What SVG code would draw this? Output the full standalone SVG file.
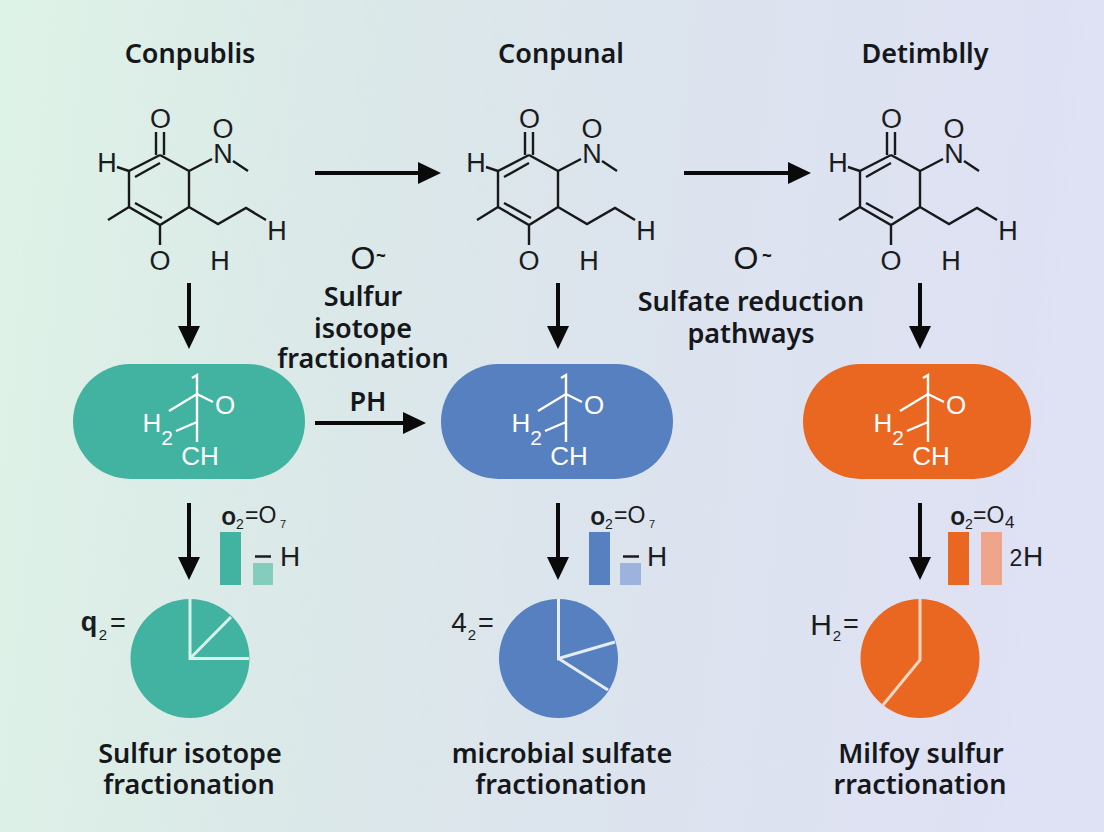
<svg xmlns="http://www.w3.org/2000/svg" width="1104" height="832" viewBox="0 0 1104 832">
<defs>
<linearGradient id="bg" x1="0" y1="0" x2="1" y2="0.08"><stop offset="0" stop-color="#def3e7"/><stop offset="0.3" stop-color="#dbe9e8"/><stop offset="0.65" stop-color="#dce3ee"/><stop offset="1" stop-color="#dfe1f4"/></linearGradient>
<marker id="ah" markerUnits="userSpaceOnUse" markerWidth="24" markerHeight="24" refX="1" refY="11" orient="auto"><path d="M0 0L23 11L0 22Z" fill="#0a0a0a"/></marker>
</defs>
<style>
text{font-family:"Noto Sans","Open Sans","Liberation Sans",sans-serif;fill:#15171a;text-anchor:middle}
.t{font-size:27px;font-weight:600}
.c{font-size:27px;font-weight:600}
.a{font-family:"Liberation Sans",Arial,sans-serif;font-size:27px;fill:#15171a}
.s{font-family:"Liberation Sans",Arial,sans-serif;font-size:27px;fill:#1a1c1e}
.w{font-family:"Liberation Sans",Arial,sans-serif;font-size:26px;fill:#fff}
.b{fill:none;stroke:#17191b;stroke-width:2.4}
.wl{fill:none;stroke:#fff;stroke-width:2.4}
.cn{fill:none;stroke:#0a0a0a;stroke-width:4;marker-end:url(#ah)}
.p{fill:none;stroke-width:3;stroke-linejoin:miter}
.teal{fill:#42b3a0}.blue{fill:#5680bf}.org{fill:#ea6722}
.st{text-anchor:start}
</style>
<rect width="1104" height="832" fill="url(#bg)"/>

<g id="title-1"><text class="t" x="190" y="63">Conpublis</text></g>
<g id="title-2"><text class="t" x="561" y="63">Conpunal</text></g>
<g id="title-3"><text class="t" x="925" y="63">Detimblly</text></g>

<g id="molecule-1">
<path class="b" d="M156 132V155M164 132V155M160 155L189 171V207L160 225L129 207V171L160 155M135 177L160 163M135 203L162 218M117 167L129 171M129 207L108 220M160 225V245M189 171L212 159M233 161L248 171M189 207L218 224L246 208L266 220"/>
<text class="s" x="160.500" y="128">O</text><text class="s" x="223" y="138">O</text><text class="s" x="223" y="163">N</text><text class="s" x="107" y="172">H</text><text class="s" x="277" y="240">H</text><text class="s" x="160" y="270">O</text><text class="s" x="220" y="270">H</text>
</g>
<g id="molecule-2" transform="translate(369 0)">
<path class="b" d="M156 132V155M164 132V155M160 155L189 171V207L160 225L129 207V171L160 155M135 177L160 163M135 203L162 218M117 167L129 171M129 207L108 220M160 225V245M189 171L212 159M233 161L248 171M189 207L218 224L246 208L266 220"/>
<text class="s" x="160.500" y="128">O</text><text class="s" x="223" y="138">O</text><text class="s" x="223" y="163">N</text><text class="s" x="107" y="172">H</text><text class="s" x="277" y="240">H</text><text class="s" x="160" y="270">O</text><text class="s" x="220" y="270">H</text>
</g>
<g id="molecule-3" transform="translate(731 0)">
<path class="b" d="M156 132V155M164 132V155M160 155L189 171V207L160 225L129 207V171L160 155M135 177L160 163M135 203L162 218M117 167L129 171M129 207L108 220M160 225V245M189 171L212 159M233 161L248 171M189 207L218 224L246 208L266 220"/>
<text class="s" x="160.500" y="128">O</text><text class="s" x="223" y="138">O</text><text class="s" x="223" y="163">N</text><text class="s" x="107" y="172">H</text><text class="s" x="277" y="240">H</text><text class="s" x="160" y="270">O</text><text class="s" x="220" y="270">H</text>
</g>

<g id="connectors">
<path class="cn" d="M315 173H419"/>
<path class="cn" d="M684 173H789"/>
<path class="cn" d="M315 423H404"/>
<path class="cn" d="M189 283V327"/>
<path class="cn" d="M558 283V327"/>
<path class="cn" d="M920 283V327"/>
<path class="cn" d="M189 503V558"/>
<path class="cn" d="M558 503V558"/>
<path class="cn" d="M920 503V558"/>
</g>

<g id="label-between-1">
<text class="a" x="363" y="269" style="font-size:32px">O</text>
<text x="381" y="262" style="font-size:17px;font-weight:800">~</text>
<text class="c" x="363" y="306">Sulfur</text><text class="c" x="363" y="338">isotope</text><text class="c" x="363" y="368">fractionation</text>
<text class="c" x="368" y="411">PH</text>
</g>
<g id="label-between-2">
<text class="a" x="746" y="269" style="font-size:32px">O</text>
<text x="767" y="262" style="font-size:17px;font-weight:800">~</text>
<text class="c" x="751" y="311">Sulfate reduction</text><text class="c" x="751" y="343">pathways</text>
</g>

<g id="pill-1"><rect class="teal" x="73" y="364" width="232" height="115" rx="57.500"/>
<path class="wl" d="M192 378L197 375V442M169 411L197 394L213 402M176 431L197 422"/>
<text class="w" x="225" y="414">O</text><text class="w" x="152" y="432">H</text><text class="w" x="167" y="445" style="font-size:21px">2</text><text class="w" x="200" y="465">CH</text></g>
<g id="pill-2"><rect class="blue" x="441" y="364" width="232" height="115" rx="57.500"/>
<g transform="translate(369 0)"><path class="wl" d="M192 378L197 375V442M169 411L197 394L213 402M176 431L197 422"/>
<text class="w" x="225" y="414">O</text><text class="w" x="152" y="432">H</text><text class="w" x="167" y="445" style="font-size:21px">2</text><text class="w" x="200" y="465">CH</text></g></g>
<g id="pill-3"><rect class="org" x="803" y="364" width="228" height="115" rx="57.500"/>
<g transform="translate(731 0)"><path class="wl" d="M192 378L197 375V442M169 411L197 394L213 402M176 431L197 422"/>
<text class="w" x="225" y="414">O</text><text class="w" x="152" y="432">H</text><text class="w" x="167" y="445" style="font-size:21px">2</text><text class="w" x="200" y="465">CH</text></g></g>

<g id="bars-1">
<text class="s st" x="221" y="525" style="font-size:25px;font-weight:600;font-family:'Noto Sans',sans-serif">o</text><text class="s st" x="236" y="529" style="font-size:14px">2</text><text class="s st" x="245" y="523" style="font-size:23px">=O</text><text class="s st" x="280" y="528" style="font-size:11px">7</text>
<rect class="teal" x="220" y="532" width="21" height="53"/><rect x="253" y="563" width="20" height="22" fill="#84ccbc"/>
<path d="M255 556.500H271" stroke="#1a1c1e" stroke-width="2.500"/><text class="s" x="290" y="566" style="font-size:28px">H</text>
</g>
<g id="bars-2" transform="translate(369 0)">
<text class="s st" x="221" y="525" style="font-size:25px;font-weight:600;font-family:'Noto Sans',sans-serif">o</text><text class="s st" x="236" y="529" style="font-size:14px">2</text><text class="s st" x="245" y="523" style="font-size:23px">=O</text><text class="s st" x="280" y="528" style="font-size:11px">7</text>
<rect class="blue" x="220" y="532" width="21" height="53"/><rect x="251" y="563" width="21" height="22" fill="#9db2dc"/>
<path d="M254 556.500H270" stroke="#1a1c1e" stroke-width="2.500"/><text class="s" x="288" y="566" style="font-size:28px">H</text>
</g>
<g id="bars-3">
<text class="s st" x="950" y="525" style="font-size:25px;font-weight:600;font-family:'Noto Sans',sans-serif">o</text><text class="s st" x="965" y="529" style="font-size:14px">2</text><text class="s st" x="973" y="523" style="font-size:23px">=O</text><text class="s st" x="1005" y="528" style="font-size:17px">4</text>
<rect class="org" x="948" y="532" width="21" height="53"/><rect x="981" y="532" width="21" height="53" fill="#efa58c"/>
<text class="s" x="1016" y="566" style="font-size:23px">2</text><text class="s" x="1033" y="566" style="font-size:28px">H</text>
</g>

<g id="pie-1">
<circle class="teal" cx="190" cy="658.500" r="59.500"/>
<path class="p" stroke="#d8f2ea" d="M190 599V658.500H249M190 658.500L231 617"/>
<text class="s" x="89" y="631" style="font-size:27px;font-weight:700">q</text><text class="s" x="103" y="640" style="font-size:15px">2</text><text class="s" x="118" y="632">=</text>
</g>
<g id="pie-2">
<circle class="blue" cx="558.500" cy="658.500" r="59.500"/>
<path class="p" stroke="#e4ecf6" d="M558.500 599V658.500L615 642M558.500 658.500L608 690"/>
<text class="s" x="459" y="632" style="font-size:28px">4</text><text class="s" x="472" y="640" style="font-size:15px">2</text><text class="s" x="486" y="632">=</text>
</g>
<g id="pie-3">
<circle class="org" cx="920" cy="658.500" r="59.500"/>
<path class="p" stroke="#f6d6c3" stroke-width="2.500" d="M920 599V660L883 705"/>
<text class="s" x="821" y="635" style="font-size:30px">H</text><text class="s" x="837" y="641" style="font-size:15px">2</text><text class="s" x="851" y="633">=</text>
</g>

<g id="caption-1"><text class="c" x="190" y="763">Sulfur isotope</text><text class="c" x="189" y="794">fractionation</text></g>
<g id="caption-2"><text class="c" x="562" y="763">microbial sulfate</text><text class="c" x="561" y="794">fractionation</text></g>
<g id="caption-3"><text class="c" x="921" y="763">Milfoy sulfur</text><text class="c" x="920" y="794">rractionation</text></g>
</svg>
